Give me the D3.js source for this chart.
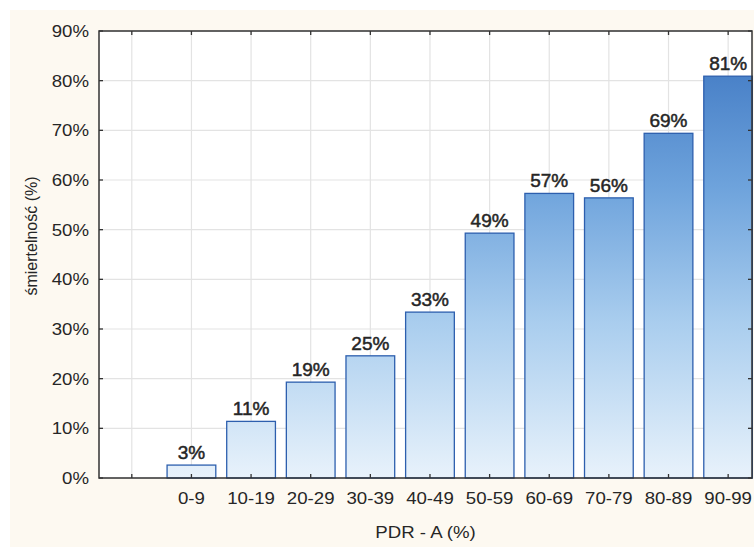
<!DOCTYPE html>
<html>
<head>
<meta charset="utf-8">
<script src="https://cdn.jsdelivr.net/npm/d3@7"></script>
<style>
  body { margin: 0; background: #ffffff; }
  text { font-family: "Liberation Sans", Arial, sans-serif; fill: #262626; }
</style>
</head>
<body>
<div id="chart"></div>
<script>
var width = 754;
var height = 547;

// data
var categories = ['', '0-9', '10-19', '20-29', '30-39', '40-49', '50-59', '60-69', '70-79', '80-89', '90-99'];
var values = [null, 2.6, 11.4, 19.3, 24.6, 33.4, 49.3, 57.3, 56.4, 69.4, 80.9];
var yTicks = [0, 10, 20, 30, 40, 50, 60, 70, 80, 90];

var plot = {left: 99, right: 752, top: 31, bottom: 478};
var stretch = 1.13;

var svg = d3.select('#chart').append('svg').attr('width', width).attr('height', height);

// cream background panel
svg.append('rect').attr('x', 10).attr('y', 10).attr('width', width - 10).attr('height', height - 10).attr('fill', '#fdf9f1');
svg.append('rect').attr('x', plot.left).attr('y', plot.top)
   .attr('width', plot.right - plot.left).attr('height', plot.bottom - plot.top).attr('fill', '#ffffff');

var x = d3.scaleLinear().domain([-0.55, 10.4]).range([plot.left, plot.right]);
var y = d3.scaleLinear().domain([0, 90]).range([plot.bottom, plot.top]);
var step = x(1) - x(0);
var barW = step * 0.817;

// gradient in user space: light at 0%, dark at the top
var defs = svg.append('defs');
var grad = defs.append('linearGradient').attr('id', 'barGrad')
    .attr('gradientUnits', 'userSpaceOnUse')
    .attr('x1', 0).attr('x2', 0).attr('y1', y(0)).attr('y2', y(90));
grad.append('stop').attr('offset', '0%').attr('stop-color', '#e8f2fb');
grad.append('stop').attr('offset', '35%').attr('stop-color', '#a9cdee');
grad.append('stop').attr('offset', '65%').attr('stop-color', '#6ea3dc');
grad.append('stop').attr('offset', '100%').attr('stop-color', '#3b74c0');

defs.append('clipPath').attr('id', 'plotClip').append('rect')
    .attr('x', plot.left).attr('y', plot.top - 2).attr('width', plot.right - plot.left + 1).attr('height', plot.bottom - plot.top + 4);

var g = svg.append('g').attr('clip-path', 'url(#plotClip)');

// grid
g.selectAll('.hgrid').data(yTicks).enter().append('line')
    .attr('x1', plot.left).attr('x2', plot.right)
    .attr('y1', d => y(d)).attr('y2', d => y(d))
    .attr('stroke', '#e3e3e3').attr('stroke-width', 1.2);
g.selectAll('.vgrid').data(categories).enter().append('line')
    .attr('x1', (d, i) => x(i)).attr('x2', (d, i) => x(i))
    .attr('y1', plot.top).attr('y2', plot.bottom)
    .attr('stroke', '#e3e3e3').attr('stroke-width', 1.2);

// bars
var barData = categories.map((c, i) => ({cat: c, i: i, v: values[i]})).filter(d => d.v != null);
g.selectAll('.bar').data(barData).enter().append('rect')
    .attr('x', d => x(d.i) - barW / 2)
    .attr('y', d => y(d.v))
    .attr('width', barW)
    .attr('height', d => y(0) - y(d.v))
    .attr('fill', 'url(#barGrad)')
    .attr('stroke', '#2d5fae')
    .attr('stroke-width', 1.3);

// frame and ticks
var axisCol = '#333333';
svg.append('rect').attr('x', plot.left).attr('y', plot.top)
   .attr('width', plot.right - plot.left).attr('height', plot.bottom - plot.top)
   .attr('fill', 'none').attr('stroke', axisCol).attr('stroke-width', 1.5);

svg.selectAll('.ytl').data(yTicks).enter().append('line')
    .attr('x1', plot.left).attr('x2', plot.left + 4)
    .attr('y1', d => y(d)).attr('y2', d => y(d)).attr('stroke', axisCol).attr('stroke-width', 1.3);
svg.selectAll('.ytr').data(yTicks).enter().append('line')
    .attr('x1', plot.right).attr('x2', plot.right - 4)
    .attr('y1', d => y(d)).attr('y2', d => y(d)).attr('stroke', axisCol).attr('stroke-width', 1.3);
svg.selectAll('.xtb').data(categories).enter().append('line')
    .attr('x1', (d, i) => x(i)).attr('x2', (d, i) => x(i))
    .attr('y1', plot.bottom).attr('y2', plot.bottom - 4).attr('stroke', axisCol).attr('stroke-width', 1.3);
svg.selectAll('.xtt').data(categories).enter().append('line')
    .attr('x1', (d, i) => x(i)).attr('x2', (d, i) => x(i))
    .attr('y1', plot.top).attr('y2', plot.top + 4).attr('stroke', axisCol).attr('stroke-width', 1.3);

// tick labels (the picture is a little wider than tall, so stretch text)
svg.selectAll('.ylab').data(yTicks).enter().append('text')
    .attr('transform', d => `translate(${plot.left - 10},${y(d) + 6}) scale(${stretch},1)`)
    .attr('text-anchor', 'end')
    .style('font-size', '16.5px')
    .text(d => d + '%');

svg.selectAll('.xlab').data(categories).enter().append('text')
    .attr('transform', (d, i) => `translate(${x(i)},${plot.bottom + 26}) scale(${stretch},1)`)
    .attr('text-anchor', 'middle')
    .style('font-size', '16.5px')
    .text(d => d);

// value labels, semi-heavy
svg.selectAll('.vlab').data(barData).enter().append('text')
    .attr('x', d => x(d.i))
    .attr('y', d => y(d.v) - 6)
    .attr('text-anchor', 'middle')
    .style('font-size', '19px')
    .style('stroke', '#262626')
    .style('stroke-width', 0.5)
    .text(d => Math.round(d.v) + '%');

// axis titles
svg.append('text')
    .attr('transform', `translate(${(plot.left + plot.right) / 2},538) scale(${stretch},1)`)
    .attr('text-anchor', 'middle')
    .style('font-size', '16.5px')
    .text('PDR - A (%)');

svg.append('text')
    .attr('transform', 'translate(37,236) rotate(-90)')
    .attr('text-anchor', 'middle')
    .style('font-size', '16px')
    .text('śmiertelność (%)');
</script>
</body>
</html>
